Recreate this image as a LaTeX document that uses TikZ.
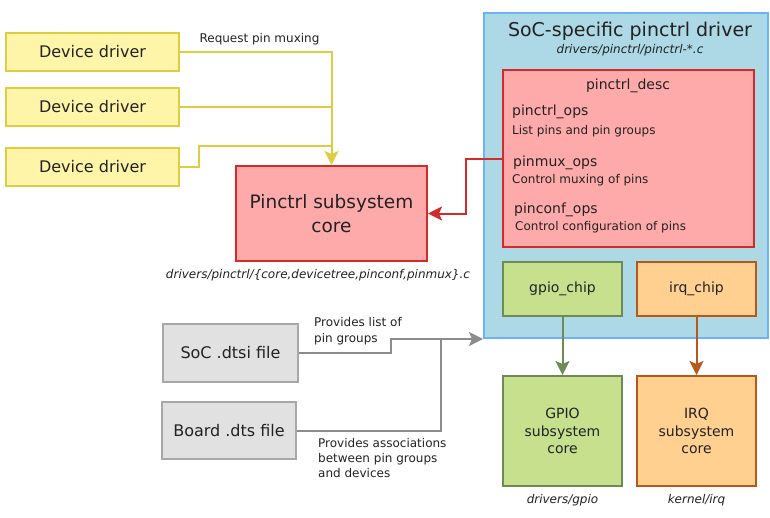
\documentclass[tikz,border=0pt]{standalone}
\usepackage{fontspec}
\setmainfont{DejaVu Sans}
\usetikzlibrary{arrows.meta}
\definecolor{ylwfill}{HTML}{FFF5A8}
\definecolor{ylwdraw}{HTML}{E0CC40}
\definecolor{redfill}{HTML}{FFAAAA}
\definecolor{reddraw}{HTML}{D42A2A}
\definecolor{bluefill}{HTML}{ADD8E6}
\definecolor{bluedraw}{HTML}{6CB4F8}
\definecolor{grnfill}{HTML}{C6E08E}
\definecolor{grndraw}{HTML}{6E8B55}
\definecolor{orgfill}{HTML}{FFD08F}
\definecolor{orgdraw}{HTML}{B5581A}
\definecolor{gryfill}{HTML}{E1E1E1}
\definecolor{grydraw}{HTML}{A8A8A8}
\definecolor{gryline}{HTML}{8C8C8C}
\definecolor{txt}{HTML}{222222}
\newcommand{\fs}[2]{\fontsize{#1}{#2}\selectfont}
\tikzset{
  box/.style={rectangle, line width=2pt, inner sep=0pt, text=txt, align=center},
  ddbox/.style={box, fill=ylwfill, draw=ylwdraw, minimum width=173pt, minimum height=38pt, font=\fs{16}{19}},
  redbox/.style={box, fill=redfill, draw=reddraw},
  grnbox/.style={box, fill=grnfill, draw=grndraw, minimum width=119pt, font=\fs{14}{17.5}},
  orgbox/.style={box, fill=orgfill, draw=orgdraw, minimum width=119pt, font=\fs{14}{17.5}},
  grybox/.style={box, fill=gryfill, draw=grydraw, font=\fs{16}{19}},
  lbl/.style={inner sep=0pt, text=txt, font=\fs{12}{15}},
  ilbl/.style={lbl, font=\fs{12}{15}\itshape},
  conn/.style={line width=2pt},
  tip/.style={-{Stealth[length=14pt,width=14pt,inset=3pt]}}
}
\begin{document}
\begin{tikzpicture}[x=1pt,y=-1pt]
\useasboundingbox (0,0) rectangle (770,517);
% device drivers
\node[ddbox] (dd1) at (92.5,52) {Device driver};
\node[ddbox] (dd2) at (92.5,107) {Device driver};
\node[ddbox] (dd3) at (92.5,166.5) {Device driver};
% pinctrl core
\node[redbox, minimum width=191pt, minimum height=95pt, font=\fs{18.5}{23.5}] (pc) at (331.5,213.5) {Pinctrl subsystem\\core};
\node[ilbl] (pccap) at (318,275) {drivers/pinctrl/\{core,devicetree,pinconf,pinmux\}.c};
% SoC-specific driver
\node[box, fill=bluefill, draw=bluedraw, minimum width=284pt, minimum height=325pt] (soc) at (626,175.5) {};
\node[lbl, font=\fs{19}{22}] (soct) at (630,31.5) {SoC-specific pinctrl driver};
\node[ilbl] (socs) at (630,50) {drivers/pinctrl/pinctrl-*.c};
\node[redbox, minimum width=251pt, minimum height=177pt] (desc) at (628.5,158.5) {};
\node[lbl, font=\fs{14}{17}] (desct) at (628,86) {pinctrl\_desc};
\node[lbl, font=\fs{14}{17}, anchor=west] (ops1) at (512,112) {pinctrl\_ops};
\node[lbl, anchor=west] (ops1d) at (512,131) {List pins and pin groups};
\node[lbl, font=\fs{14}{17}, anchor=west] (ops2) at (513,163) {pinmux\_ops};
\node[lbl, anchor=west] (ops2d) at (512,180) {Control muxing of pins};
\node[lbl, font=\fs{14}{17}, anchor=west] (ops3) at (514,210) {pinconf\_ops};
\node[lbl, anchor=west] (ops3d) at (515,227) {Control configuration of pins};
\node[grnbox, minimum height=54pt] (gchip) at (562.5,289) {gpio\_chip};
\node[orgbox, minimum height=54pt] (ichip) at (696.5,289) {irq\_chip};
% subsystem cores
\node[grnbox, minimum height=110pt] (gcore) at (562.5,431) {GPIO\\subsystem\\core};
\node[orgbox, minimum height=110pt] (icore) at (696.5,431) {IRQ\\subsystem\\core};
\node[ilbl] (gcap) at (562.5,500) {drivers/gpio};
\node[ilbl] (icap) at (696.5,500) {kernel/irq};
% dts files
\node[grybox, minimum width=135pt, minimum height=58pt] (dtsi) at (230.5,353) {SoC .dtsi file};
\node[grybox, minimum width=134pt, minimum height=57pt] (board) at (229,430.5) {Board .dts file};
% labels
\node[lbl] (reqlbl) at (259.5,39) {Request pin muxing};
\node[lbl, font=\fs{12}{16}, align=left, anchor=west] (plist) at (314,331) {Provides list of\\pin groups};
\node[lbl, font=\fs{12}{15.3}, align=left, anchor=west] (passoc) at (318,458) {Provides associations\\between pin groups\\and devices};
% yellow connectors
\draw[conn, draw=ylwdraw, tip] (dd1.east) -| (pc.north);
\coordinate (j3) at (199,146);
\draw[conn, draw=ylwdraw] (dd2.east) -- (pc.north |- dd2.east);
\draw[conn, draw=ylwdraw] (dd3.east) -| (j3) -- (pc.north |- j3);
% red connector
\coordinate (rbend) at (466,158.5);
\draw[conn, draw=reddraw, tip] (desc.west) -- (rbend) |- (pc.east);
% chip arrows
\draw[conn, draw=grndraw, tip] (gchip.south) -- (gcore.north);
\draw[conn, draw=orgdraw, tip] (ichip.south) -- (icore.north);
% gray connectors
\coordinate (gbend) at (391,353);
\coordinate (gjoin) at (441,338);
\draw[conn, draw=gryline, tip] (dtsi.east) -- (gbend) |- (soc.south west);
\draw[conn, draw=gryline] (board.east) -| (gjoin);
\end{tikzpicture}
\end{document}
